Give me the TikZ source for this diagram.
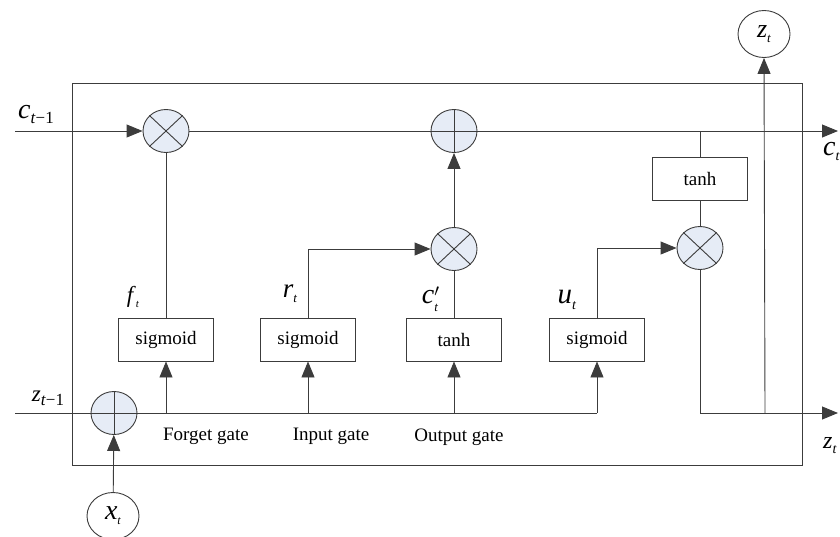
\documentclass[tikz,border=0pt]{standalone}
\usepackage{fontspec}
\setmainfont{Liberation Serif}
\usetikzlibrary{shapes.geometric,arrows.meta}
\definecolor{opfill}{RGB}{230,236,246}
\definecolor{lncol}{RGB}{60,60,60}
\newcommand{\fs}[1]{\fontsize{#1}{#1}\selectfont}
\begin{document}
\begin{tikzpicture}[x=1pt,y=-1pt,
 ln/.style={draw=lncol,line width=0.9pt},
 arr/.style={ln,-{Triangle[length=16pt,width=13pt]}},
 opc/.style={ellipse,draw=lncol,line width=0.9pt,fill=opfill,minimum width=46pt,minimum height=43pt,inner sep=0pt},
 io/.style={ellipse,draw=lncol,line width=0.9pt,fill=white,minimum width=52pt,minimum height=47pt,inner sep=0pt},
 fn/.style={rectangle,draw=lncol,line width=0.9pt,fill=white,minimum width=95pt,minimum height=43pt,inner sep=0pt,font=\fs{19}},
 gl/.style={font=\fs{19},inner sep=0pt},
 sy/.style={inner sep=0pt}]
\useasboundingbox (0,0) rectangle (840,536);
% cell frame
\node[draw=lncol,line width=0.9pt,minimum width=730pt,minimum height=382pt,inner sep=0pt] (cell) at (437,274) {};
% operators
\node[opc] (m1) at (166,131) {};
\node[opc] (a1) at (454,131) {};
\node[opc] (m2) at (454,249) {};
\node[opc] (m3) at (700,248) {};
\node[opc] (a0) at (114,413) {};
% functions
\node[fn] (th) at (700,178.5) {tanh};
\node[fn] (b1) at (166,339.5) {sigmoid};
\node[fn] (b2) at (308,339.5) {sigmoid};
\node[fn] (b3) at (454,339.5) {tanh};
\node[fn] (b4) at (597,339.5) {sigmoid};
% io
\node[io] (zt) at (764,34) {\fs{26}\textit{z}\raisebox{-5pt}{\fs{13}\textit{t}}};
\node[io] (xt) at (113,516) {\fs{28}\textit{x}\raisebox{-5pt}{\fs{12}\textit{t}}};
% coordinates
\coordinate (cin) at (15,131);
\coordinate (cout) at (838,131);
\coordinate (cj) at (700,131);
\coordinate (zin) at (15,413);
\coordinate (zend) at (597,413);
\coordinate (g1) at (166,413);
\coordinate (g2) at (308,413);
\coordinate (g3) at (454,413);
\coordinate (zout) at (838,413);
\coordinate (zj) at (765,413);
% connectors
\draw[arr] (cin) -- (m1);
\draw[ln] (m1) -- (a1);
\draw[arr] (a1) -- (cout);
\draw[ln] (m1) -- (b1);
\draw[arr] (b2.north) |- (m2.west);
\draw[ln] (b3) -- (m2);
\draw[arr] (m2) -- (a1);
\draw[arr] (b4.north) |- (m3.west);
\draw[ln] (cj) -- (th.north);
\draw[ln] (th) -- (m3);
\draw[arr] (m3.south) |- (zout);
\draw[arr] (zj) -- (zt.south);
\draw[ln] (zin) -- (a0.west);
\draw[ln] (a0.east) -- (zend);
\draw[arr] (g1) -- (b1.south);
\draw[arr] (g2) -- (b2.south);
\draw[arr] (g3) -- (b3.south);
\draw[arr] (zend) -- (b4.south);
\draw[arr] (xt) -- (a0);
% operator signs
\foreach \n in {m1,m2,m3}{
 \draw[ln] (\n.north east) -- (\n.south west);
 \draw[ln] (\n.north west) -- (\n.south east);
}
\foreach \n in {a0,a1}{
 \draw[ln] (\n.north) -- (\n.south);
 \draw[ln] (\n.west) -- (\n.east);
}
% labels
\node[sy] (lc) at (36,114) {\fs{28}\textit{c}\raisebox{-5pt}{\fs{17}\textit{t}−1}};
\node[sy] (lz) at (48,398) {\fs{23}\textit{z}\raisebox{-4pt}{\fs{17}\textit{t}−1}};
\node[sy,anchor=west] (lct) at (823,151) {\fs{28}\textit{c}\raisebox{-5pt}{\fs{14}\textit{t}}};
\node[sy,anchor=west] (lzt) at (823,446) {\fs{24}\textit{z}\raisebox{-5pt}{\fs{14}\textit{t}}};
\node[sy] (lf) at (133,297) {\fs{23}\textit{f}\raisebox{-5pt}{\fs{11}\textit{t}}};
\node[sy] (lr) at (290,294) {\fs{27}\textit{r}\raisebox{-5pt}{\fs{13}\textit{t}}};
\node[sy] (lcp) at (430,299) {\fs{28}\textit{c}\rlap{\raisebox{7pt}{\fs{16}$\prime$}}\raisebox{-8pt}{\fs{13}\textit{t}}};
\node[sy] (lu) at (567,300) {\fs{29}\textit{u}\raisebox{-6pt}{\fs{14}\textit{t}}};
\node[gl] (gf) at (206,436) {Forget gate};
\node[gl] (gi) at (331,436) {Input gate};
\node[gl] (go) at (459,437) {Output gate};
\end{tikzpicture}
\end{document}
